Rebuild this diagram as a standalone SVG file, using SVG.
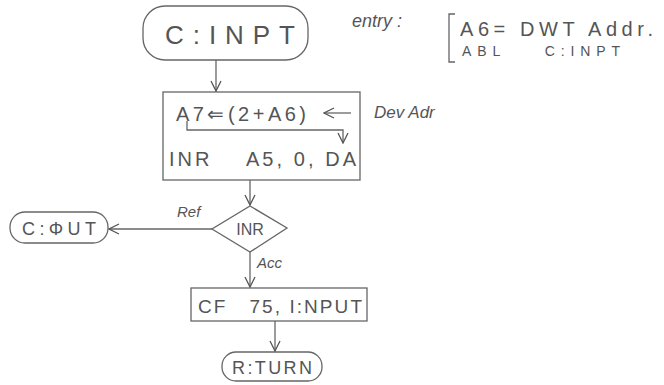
<svg xmlns="http://www.w3.org/2000/svg" width="664" height="385" viewBox="0 0 664 385">
<defs>
<marker id="ah" markerWidth="12" markerHeight="12" refX="11" refY="6" orient="auto" markerUnits="userSpaceOnUse">
<path d="M1,1 L11,6 L1,11" fill="none" stroke="#555" stroke-width="1.3"/>
</marker>
<style>
.s{fill:none;stroke:#666;stroke-width:1.3}
.t{font-family:"Liberation Sans",sans-serif;fill:#555;white-space:pre}
.l{stroke:#666;stroke-width:1.3;fill:none}
</style>
</defs>
<rect width="664" height="385" fill="#fff"/>
<g id="start">
<rect class="s" x="143" y="6" width="165" height="54" rx="22"/>
<text class="t" x="165" y="44" font-size="26" textLength="130" lengthAdjust="spacing">C:INPT</text>
</g>
<g id="entry">
<text class="t" x="352" y="27" font-size="18" font-style="italic">entry :</text>
<path class="l" d="M455,14 L449,14 L449,62 L455,62"/>
<text class="t" x="460" y="36" font-size="20" textLength="193" lengthAdjust="spacing">A6= DWT Addr.</text>
<text class="t" x="462" y="56" font-size="14" textLength="158" lengthAdjust="spacing">ABL    C:INPT</text>
</g>
<g id="setup">
<rect class="s" x="163" y="92" width="197" height="88"/>
<text class="t" x="176" y="121" font-size="20" textLength="130" lengthAdjust="spacing">A7⇐(2+A6)</text>
<text class="t" x="169" y="166" font-size="20" textLength="187" lengthAdjust="spacing">INR    A5, 0, DA</text>
</g>
<g id="devadr">
<text class="t" x="374" y="118" font-size="17" font-style="italic">Dev Adr</text>
</g>
<g id="inr">
<polygon class="s" points="250,206 287,228 250,252 212,229"/>
<text class="t" x="250" y="235" font-size="16" text-anchor="middle">INR</text>
</g>
<g id="cout">
<rect class="s" x="10" y="212" width="98" height="31" rx="15"/>
<text class="t" x="22" y="235" font-size="18" textLength="74" lengthAdjust="spacing">C:ΦUT</text>
</g>
<g id="cf">
<rect class="s" x="191" y="288" width="176" height="33"/>
<text class="t" x="198" y="313" font-size="19" textLength="164" lengthAdjust="spacing">CF   75, I:NPUT</text>
</g>
<g id="return">
<rect class="s" x="222" y="352" width="100" height="29" rx="14"/>
<text class="t" x="232" y="374" font-size="18" textLength="80" lengthAdjust="spacing">R:TURN</text>
</g>
<g id="connectors">
<line class="l" x1="216" y1="60" x2="216" y2="91" marker-end="url(#ah)"/>
<line class="l" x1="351" y1="113" x2="324" y2="113" marker-end="url(#ah)"/>
<path class="l" d="M187,121 L187,130 L343,130 L343,143" marker-end="url(#ah)"/>
<line class="l" x1="250" y1="180" x2="250" y2="205" marker-end="url(#ah)"/>
<line class="l" x1="212" y1="229" x2="109" y2="229" marker-end="url(#ah)"/>
<text class="t" x="177" y="217" font-size="15" font-style="italic">Ref</text>
<line class="l" x1="250" y1="252" x2="250" y2="287" marker-end="url(#ah)"/>
<text class="t" x="257" y="268" font-size="15" font-style="italic">Acc</text>
<line class="l" x1="275" y1="321" x2="275" y2="351" marker-end="url(#ah)"/>
</g>
</svg>
